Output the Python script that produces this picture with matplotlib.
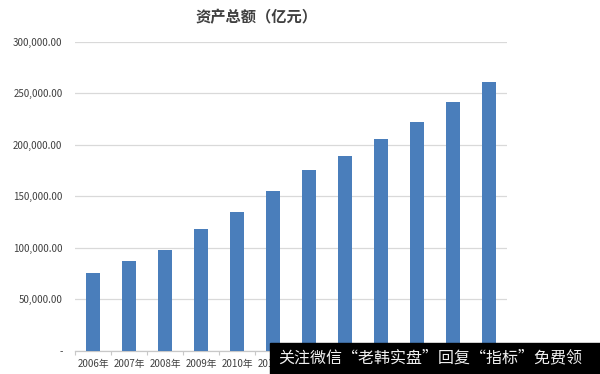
import numpy as np
import matplotlib
matplotlib.use("Agg")
import matplotlib.pyplot as plt
from matplotlib.ticker import FuncFormatter

plt.rcParams['font.family'] = ['Noto Sans CJK SC', 'DejaVu Sans']

# data
years = ['2006年', '2007年', '2008年', '2009年', '2010年', '2011年',
         '2012年', '2013年', '2014年', '2015年', '2016年', '2017年']
assets = [75200, 87100, 97800, 118200, 134700, 155000,
          175400, 189000, 205800, 222000, 241200, 260900]
title = '资产总额（亿元）'
watermark = '关注微信“老韩实盘”回复“指标”免费领'

fig = plt.figure(figsize=(6.0, 3.74), dpi=100)
ax = fig.add_axes([0.125, 0.0623, 0.72, 0.8262])

x = np.arange(len(years))
ax.bar(x, assets, width=0.39, color='#4a7ebb', zorder=3)

ax.set_xlim(-0.5, len(years) - 0.5)
ax.set_ylim(0, 300000)
ax.set_yticks(np.arange(0, 300001, 50000))
ax.yaxis.set_major_formatter(FuncFormatter(lambda v, p: '-' if v == 0 else '{:,.2f}'.format(v)))
ax.grid(axis='y', color='#d9d9d9', linewidth=0.9, zorder=0)

ax.set_xticks(x)
ax.set_xticklabels(years)
ax.set_xticks(np.arange(-0.5, len(years)), minor=True)
ax.tick_params(axis='x', which='major', length=0, pad=6, labelsize=7, labelcolor='#404040')
ax.tick_params(axis='x', which='minor', length=3, color='#c8c8c8', width=0.8)
ax.tick_params(axis='y', length=0, pad=9, labelsize=7, labelcolor='#404040')

for side in ['top', 'right', 'left']:
    ax.spines[side].set_visible(False)
ax.spines['bottom'].set_color('#c8c8c8')
ax.spines['bottom'].set_linewidth(0.9)

fig.text(0.428, 0.955, title, ha='center', va='center', fontsize=11,
         fontweight='bold', color='#404040')

# watermark box at lower right, drawn over the last x labels
fig.patches.append(plt.Rectangle((270 / 600, 0), 330 / 600, 31 / 374,
                                 transform=fig.transFigure, color='black', zorder=10))
fig.text(278 / 600, 0.043, watermark, ha='left', va='center', fontsize=11.5,
         color='#f0f0f0', zorder=11)

fig.savefig('out.png', dpi=100)
